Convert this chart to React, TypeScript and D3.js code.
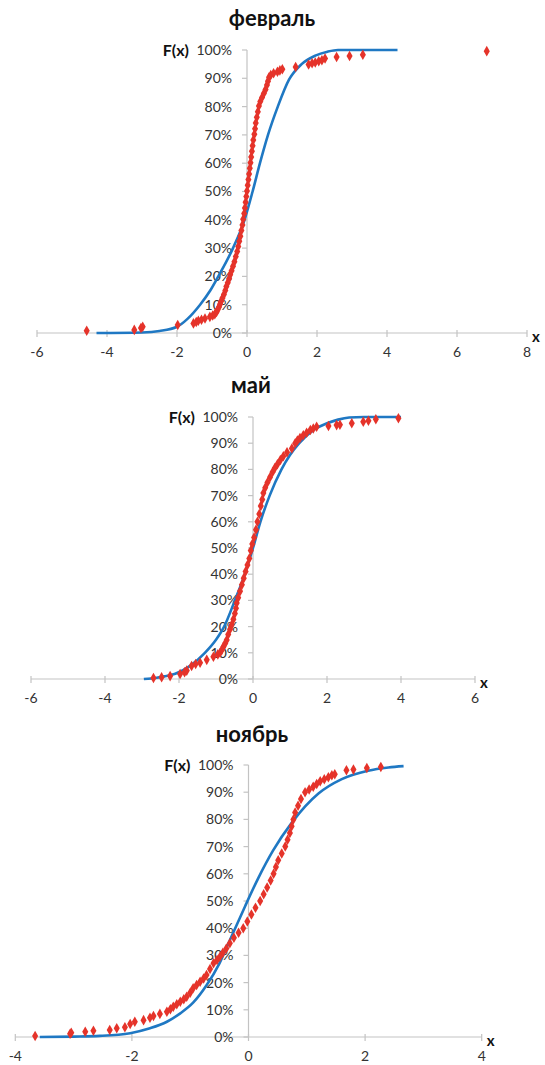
import React from "react";
import * as d3 from "d3";

// x, F(x) in %
const febBlue: [number, number][] = [
  [-4.3, 0], [-3, 0.2], [-2.5, 0.7], [-2, 2.2], [-1.7, 5], [-1.34, 10], [-1.05, 15], [-0.82, 20],
  [-0.4, 30], [-0.07, 40], [0.16, 50], [0.37, 60], [0.6, 70], [0.88, 80], [1.2, 89.5], [1.56, 95],
  [1.95, 98], [2.3, 99.4], [2.6, 100], [4.3, 100],
];
const febRed: [number, number][] = [
  [-4.58, 0.8], [-3.22, 1.1], [-3.03, 1.8], [-2.98, 2.2], [-1.98, 2.8],
  [-1.53, 3.4], [-1.45, 3.9], [-1.39, 4.3], [-1.3, 4.7], [-1.2, 5.1], [-1.06, 5.7], [-0.98, 6.2],
  [-0.92, 6.6], [-0.87, 7.4], [-0.84, 8.2], [-0.8, 9.2], [-0.77, 10.2], [-0.74, 11.2], [-0.7, 12.4],
  [-0.66, 13.6], [-0.62, 15], [-0.59, 16.4], [-0.55, 17.8], [-0.51, 19.2], [-0.48, 20.6], [-0.44, 22],
  [-0.4, 23.6], [-0.36, 25.2], [-0.32, 27], [-0.28, 28.8], [-0.25, 30.6], [-0.22, 32.4], [-0.19, 34.2],
  [-0.16, 36.2], [-0.13, 38.2], [-0.11, 40.2], [-0.08, 42.2], [-0.06, 44.2], [-0.04, 46.2], [-0.02, 48.2],
  [0, 50.2], [0.02, 52.2], [0.04, 54.2], [0.06, 56.2], [0.08, 58.2], [0.1, 60.2], [0.12, 62.2],
  [0.14, 64.2], [0.16, 66.2], [0.18, 68.2], [0.21, 70.2], [0.23, 72.2], [0.25, 74.2], [0.28, 76.2],
  [0.31, 78.2], [0.34, 80.2], [0.38, 81.8], [0.43, 83.2], [0.48, 84.6], [0.53, 86], [0.57, 87.6],
  [0.6, 89], [0.63, 90.4], [0.68, 91.2], [0.76, 91.8], [0.87, 92.3], [0.94, 92.8], [1.01, 93.2],
  [1.39, 94], [1.76, 94.9], [1.86, 95.3], [1.95, 95.6], [2.05, 96], [2.14, 96.4], [2.23, 97],
  [2.56, 97.5], [2.93, 97.9], [3.31, 98.3], [6.85, 99.6],
];

const mayBlue: [number, number][] = [
  [-2.95, 0], [-2.6, 0.5], [-2.4, 1], [-2.1, 2], [-1.7, 5], [-1.3, 10], [-1.0, 15], [-0.78, 20],
  [-0.49, 30], [-0.22, 40], [0, 50], [0.2, 60], [0.45, 70], [0.77, 80], [1.0, 85.5], [1.25, 90],
  [1.63, 95], [2.0, 97.6], [2.3, 99], [2.6, 99.8], [3.0, 100], [4.0, 100],
];
const mayRed: [number, number][] = [
  [-2.69, 0.4], [-2.47, 0.7], [-2.24, 1.1], [-1.97, 1.9], [-1.85, 2.6], [-1.79, 3.2], [-1.66, 5.0],
  [-1.55, 5.7], [-1.43, 6.2], [-1.25, 7.3], [-1.07, 8.5], [-0.95, 9.4], [-0.89, 10], [-0.84, 11.2],
  [-0.8, 12.3], [-0.75, 13.6], [-0.71, 14.9], [-0.67, 17], [-0.62, 19], [-0.58, 20.6], [-0.53, 22.8],
  [-0.49, 25], [-0.46, 27], [-0.44, 29], [-0.4, 31], [-0.35, 33.5], [-0.3, 36], [-0.25, 38.5],
  [-0.2, 41], [-0.15, 43.5], [-0.1, 46], [-0.06, 49], [-0.02, 51.5], [0.03, 54], [0.08, 57],
  [0.12, 60], [0.17, 63], [0.21, 66], [0.25, 68.5], [0.28, 71], [0.33, 73], [0.39, 75], [0.46, 77],
  [0.53, 79], [0.59, 80.5], [0.66, 82], [0.74, 83.6], [0.82, 85], [0.92, 86.5], [1.05, 88],
  [1.14, 90], [1.2, 91], [1.27, 92], [1.36, 93], [1.45, 94], [1.55, 95], [1.63, 95.6], [1.72, 96.3],
  [2.04, 96.6], [2.26, 96.9], [2.35, 97], [2.67, 97.6], [2.98, 98.2], [3.12, 98.6], [3.32, 99.1],
  [3.93, 99.5],
];

const novBlue: [number, number][] = [
  [-3.58, 0], [-3, 0.15], [-2.55, 0.4], [-2.03, 1.4], [-1.69, 3.2], [-1.4, 5.6], [-1.17, 8.7],
  [-0.95, 12.6], [-0.72, 19], [-0.5, 27], [-0.28, 37.5], [-0.06, 48], [0.17, 58.5], [0.42, 68.5],
  [0.75, 79], [1.2, 89.5], [1.6, 94.8], [2.05, 97.9], [2.4, 99.1], [2.66, 99.6],
];
const novRed: [number, number][] = [
  [-3.66, 0.4], [-3.06, 1.2], [-3.04, 1.6], [-2.8, 1.9], [-2.66, 2.3], [-2.38, 2.6], [-2.26, 3.2],
  [-2.12, 3.6], [-2.03, 4.8], [-1.95, 5.6], [-1.8, 6.2], [-1.69, 7.1], [-1.63, 7.7], [-1.52, 8.5],
  [-1.4, 9.3], [-1.34, 10.2], [-1.29, 11.1], [-1.23, 12], [-1.17, 13], [-1.11, 13.9], [-1.06, 14.8],
  [-1.0, 16.3], [-0.95, 17.9], [-0.89, 19.1], [-0.83, 20.3], [-0.77, 21.5], [-0.72, 22.8],
  [-0.66, 25], [-0.6, 27.1], [-0.54, 28.3], [-0.49, 29.5], [-0.44, 31], [-0.38, 32.5], [-0.32, 34.5],
  [-0.25, 36.5], [-0.17, 38.3], [-0.09, 40], [-0.02, 42.5], [0.05, 45], [0.12, 47.5], [0.2, 50],
  [0.26, 52.5], [0.32, 55], [0.38, 57.5], [0.43, 60], [0.47, 62.5], [0.51, 65], [0.57, 67.5],
  [0.63, 70], [0.67, 72.5], [0.71, 75], [0.74, 77.5], [0.77, 80], [0.8, 82.5], [0.85, 85],
  [0.9, 87.5], [0.97, 90], [1.04, 91], [1.11, 92], [1.17, 93], [1.23, 94], [1.3, 94.8], [1.37, 95.5],
  [1.43, 96.2], [1.48, 96.6], [1.68, 98.1], [1.8, 98.3], [2.03, 98.9], [2.27, 99.3],
];

const titles = ["февраль", "май", "ноябрь"];
const febXTicks = [-6, -4, -2, 0, 2, 4, 6, 8];
const mayXTicks = [-6, -4, -2, 0, 2, 4, 6];
const novXTicks = [-4, -2, 0, 2, 4];
const yTicks = [0, 10, 20, 30, 40, 50, 60, 70, 80, 90, 100];

const BLUE = "#1f78c3";
const RED = "#e5332a";
const AXIS = "#c3c3c3";
const TEXT = "#333";
const FONT = "Lato, 'Open Sans', sans-serif";

const panels = [
  { title: titles[0], blue: febBlue, red: febRed, xTicks: febXTicks, left: 37, right: 527, top: 50, bottom: 333, titleX: 272, titleY: 26 },
  { title: titles[1], blue: mayBlue, red: mayRed, xTicks: mayXTicks, left: 31, right: 475, top: 417, bottom: 679, titleX: 251, titleY: 393 },
  { title: titles[2], blue: novBlue, red: novRed, xTicks: novXTicks, left: 15.3, right: 481.7, top: 765, bottom: 1037, titleX: 252, titleY: 742 },
];

const diamond = d3.symbol(d3.symbolDiamond, 32)();

function Panel({ p }: { p: (typeof panels)[number] }) {
  const x = d3.scaleLinear().domain(d3.extent(p.xTicks) as [number, number]).range([p.left, p.right]);
  const y = d3.scaleLinear().domain([0, 100]).range([p.bottom, p.top]);
  const line = d3.line<[number, number]>().x((d) => x(d[0])).y((d) => y(d[1])).curve(d3.curveMonotoneX);
  const x0 = x(0);
  return (
    <g>
      <text x={p.titleX} y={p.titleY} textAnchor="middle" fontFamily={FONT} fontWeight="bold" fontSize={22} fill="#111">
        {p.title}
      </text>
      {/* axes */}
      <line x1={p.left} x2={p.right} y1={p.bottom} y2={p.bottom} stroke={AXIS} strokeWidth={1.2} />
      <line x1={x0} x2={x0} y1={p.top} y2={p.bottom} stroke={AXIS} strokeWidth={1.2} />
      {p.xTicks.map((t) => (
        <g key={"x" + t}>
          <line x1={x(t)} x2={x(t)} y1={p.bottom - 3} y2={p.bottom + 4} stroke={AXIS} strokeWidth={1.2} />
          <text x={x(t)} y={p.bottom + 24} textAnchor="middle" fontFamily={FONT} fontSize={14} fill={TEXT}>
            {t}
          </text>
        </g>
      ))}
      {yTicks.map((t) => (
        <g key={"y" + t}>
          <line x1={x0 - 5} x2={x0} y1={y(t)} y2={y(t)} stroke={AXIS} strokeWidth={1.2} />
          <text x={x0 - 15} y={y(t)} dy="0.35em" textAnchor="end" fontFamily={FONT} fontSize={14} fill={TEXT}>
            {t + "%"}
          </text>
        </g>
      ))}
      <text x={x0 - 58} y={p.top} dy="0.35em" textAnchor="end" fontFamily={FONT} fontWeight="bold" fontSize={16} fill="#111">
        F(x)
      </text>
      <text x={p.right + 5} y={p.bottom + 9} fontFamily={FONT} fontWeight="bold" fontSize={15} fill="#111">
        x
      </text>
      {/* theoretical curve */}
      <path d={line(p.blue) || ""} fill="none" stroke={BLUE} strokeWidth={2.6} />
      {/* empirical points */}
      {p.red.map((d, i) => (
        <path key={i} d={diamond || ""} transform={`translate(${x(d[0])},${y(d[1])})`} fill={RED} />
      ))}
    </g>
  );
}

export default function App() {
  return (
    <div style={{ position: "absolute", left: 0, top: 0 }}>
      <svg width={545} height={1065} style={{ display: "block", background: "#fff" }}>
        {panels.map((p) => (
          <Panel key={p.title} p={p} />
        ))}
      </svg>
    </div>
  );
}
